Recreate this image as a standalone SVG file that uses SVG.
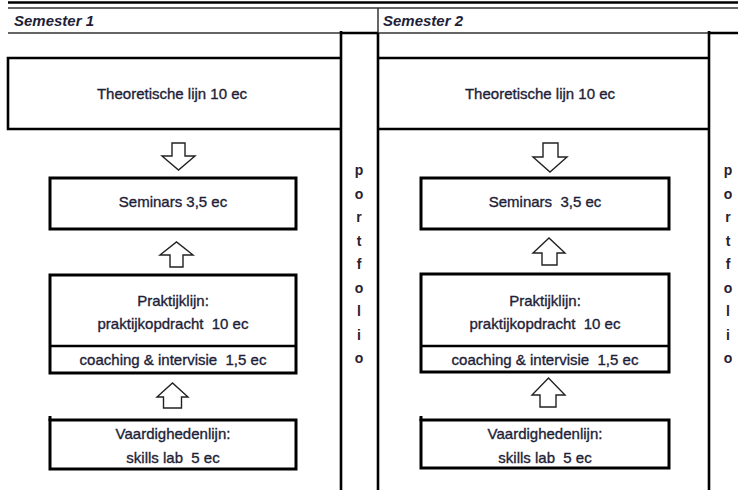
<svg xmlns="http://www.w3.org/2000/svg" width="738" height="490" viewBox="0 0 738 490">
<style>
.t{font-family:"Liberation Sans",Arial,sans-serif;font-size:15px;fill:#1e1e38;stroke:#1e1e38;stroke-width:0.35;text-anchor:middle;white-space:pre}
.h{font-family:"Liberation Sans",Arial,sans-serif;font-size:15px;font-weight:bold;font-style:italic;fill:#1e1e38;white-space:pre}
.p{font-family:"Liberation Sans",Arial,sans-serif;font-size:14px;font-weight:bold;fill:#2a2030;text-anchor:middle}
.thin{stroke:#333;stroke-width:1.5;fill:none}
.thick{stroke:#000;stroke-width:2.6;fill:none}
.box{stroke:#000;stroke-width:3;fill:#fff}
.arr{stroke:#222;stroke-width:1.4;fill:#fff;stroke-linejoin:miter}
</style>
<rect width="738" height="490" fill="#fff"/>
<g id="frame">
<line x1="8" y1="2.5" x2="738" y2="2.5" stroke="#000" stroke-width="2.6"/>
<line x1="8" y1="8" x2="738" y2="8" class="thin"/>
<line x1="8" y1="33" x2="738" y2="33" class="thin"/>
<line x1="378" y1="8" x2="378" y2="33" class="thin"/>
<line x1="378" y1="33" x2="378" y2="490" class="thick"/>
</g>
<g id="header-1"><text class="h" x="14" y="26">Semester 1</text></g>
<g id="header-2"><text class="h" x="383" y="26">Semester 2</text></g>
<g id="portfolio-1">
<path class="thick" d="M341,31 V490 M341,33 H378"/>
<text class="p" x="359" y="175">p</text><text class="p" x="359" y="198.5">o</text><text class="p" x="359" y="222">r</text><text class="p" x="359" y="245.5">t</text><text class="p" x="359" y="269">f</text><text class="p" x="359" y="292.5">o</text><text class="p" x="359" y="316">l</text><text class="p" x="359" y="339.5">i</text><text class="p" x="359" y="363">o</text>
</g>
<g id="portfolio-2">
<path class="thick" d="M709,31 V490 M709,33 H738"/>
<text class="p" x="728" y="175">p</text><text class="p" x="728" y="198.5">o</text><text class="p" x="728" y="222">r</text><text class="p" x="728" y="245.5">t</text><text class="p" x="728" y="269">f</text><text class="p" x="728" y="292.5">o</text><text class="p" x="728" y="316">l</text><text class="p" x="728" y="339.5">i</text><text class="p" x="728" y="363">o</text>
</g>
<g id="theoretische-1">
<path class="thick" d="M342,58 H8 V129 H342"/>
<text class="t" x="172" y="99">Theoretische lijn 10 ec</text>
</g>
<g id="theoretische-2">
<path class="thick" d="M378,58 H710 M378,129 H710"/>
<text class="t" x="540" y="99">Theoretische lijn 10 ec</text>
</g>
<g id="seminars-1">
<rect class="box" x="50" y="178" width="246" height="51"/>
<text class="t" x="173" y="207">Seminars 3,5 ec</text>
</g>
<g id="seminars-2">
<rect class="box" x="421" y="178" width="248" height="51"/>
<text class="t" x="545" y="207">Seminars  3,5 ec</text>
</g>
<g id="praktijk-1">
<rect class="box" x="50" y="275" width="246" height="98"/>
<line x1="50" y1="346" x2="296" y2="346" stroke="#000" stroke-width="2.6"/>
<text class="t" x="173" y="306">Praktijklijn:</text>
<text class="t" x="173" y="329">praktijkopdracht  10 ec</text>
<text class="t" x="173" y="365">coaching &amp; intervisie  1,5 ec</text>
</g>
<g id="praktijk-2">
<rect class="box" x="421" y="274" width="248" height="98"/>
<line x1="421" y1="346" x2="669" y2="346" stroke="#000" stroke-width="2.6"/>
<text class="t" x="545" y="306">Praktijklijn:</text>
<text class="t" x="545" y="329">praktijkopdracht  10 ec</text>
<text class="t" x="545" y="365">coaching &amp; intervisie  1,5 ec</text>
</g>
<g id="vaardigheden-1">
<rect class="box" x="50" y="420" width="246" height="49"/>
<line x1="50" y1="416" x2="50" y2="421" stroke="#000" stroke-width="3"/>
<text class="t" x="173" y="439">Vaardighedenlijn:</text>
<text class="t" x="173" y="463">skills lab  5 ec</text>
</g>
<g id="vaardigheden-2">
<rect class="box" x="421" y="420" width="248" height="48"/>
<line x1="421" y1="416" x2="421" y2="421" stroke="#000" stroke-width="3"/>
<text class="t" x="545" y="439">Vaardighedenlijn:</text>
<text class="t" x="545" y="463">skills lab  5 ec</text>
</g>
<g id="connectors">
<polygon class="arr" points="172,143 185,143 185,156 195,156 178.5,170 162,156 172,156"/>
<polygon class="arr" points="170,267 183,267 183,255 193,255 176.5,242 160,255 170,255"/>
<polygon class="arr" points="163.5,408 181.5,408 181.5,397 188,397 172.5,383 157,397 163.5,397"/>
<polygon class="arr" points="543,143 558,143 558,157 567,157 550,172 533,157 543,157"/>
<polygon class="arr" points="542,265 557,265 557,253 565,253 549,238 533,253 542,253"/>
<polygon class="arr" points="540,407 556,407 556,395 565,395 548.5,378 532,395 540,395"/>
</g>
</svg>
